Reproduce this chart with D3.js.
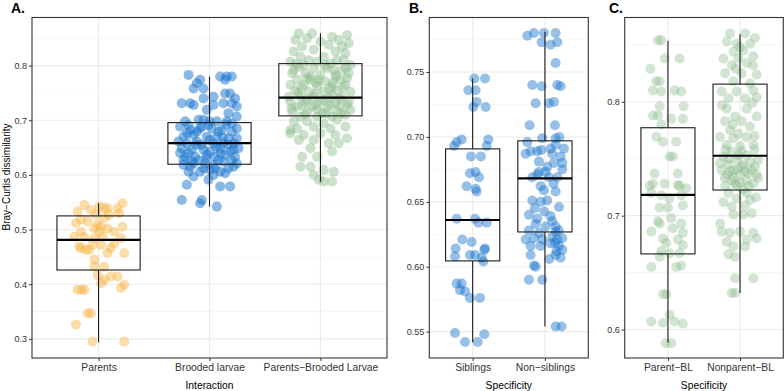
<!DOCTYPE html>
<html><head><meta charset="utf-8">
<script src="https://cdn.jsdelivr.net/npm/d3@7"></script>
<style>
body{margin:0;background:#fff}
svg{display:block}
text{font-family:"Liberation Sans",Arial,Helvetica,sans-serif}
</style>
</head><body>
<svg id="chart" width="784" height="391"></svg>
<script>
// ---------- DATA ----------
const catsA = ["Parents", "Brooded larvae", "Parents\u2212Brooded Larvae"];
const catsB = ["Siblings", "Non\u2212siblings"];
const catsC = ["Parent\u2212BL", "Nonparent\u2212BL"];

const ticksA = [0.3, 0.4, 0.5, 0.6, 0.7, 0.8];
const minorA = [0.35, 0.45, 0.55, 0.65, 0.75, 0.85];
const ticksB = [0.55, 0.60, 0.65, 0.70, 0.75];
const minorB = [0.575, 0.625, 0.675, 0.725, 0.775];
const ticksC = [0.6, 0.7, 0.8];
const minorC = [0.65, 0.75, 0.85];

// box stats: [lower whisker, Q1, median, Q3, upper whisker]
const boxParents = [0.294, 0.426, 0.481, 0.525, 0.548];
const boxBrooded = [0.542, 0.6195, 0.658, 0.6957, 0.780];
const boxPBL = [0.5877, 0.708, 0.7414, 0.8036, 0.859];
const boxSib = [0.5418, 0.6045, 0.636, 0.6908, 0.745];
const boxNonSib = [0.554, 0.6268, 0.668, 0.697, 0.781];
const boxParentBL = [0.5886, 0.6664, 0.7182, 0.7772, 0.8535];
const boxNonparentBL = [0.632, 0.7225, 0.7526, 0.8155, 0.8594];

// points: [jitter offset (category units), Bray-Curtis value]
const ptsParents = [[-0.129,0.545],[0.006,0.542],[0.216,0.548],[-0.189,0.533],[-0.069,0.536],[0.051,0.539],[0.171,0.539],[0.186,0.530],[-0.159,0.518],[-0.204,0.512],[-0.099,0.515],[-0.009,0.509],[0.081,0.502],[0.216,0.505],[-0.039,0.502],[0.021,0.505],[-0.159,0.496],[-0.219,0.487],[-0.129,0.487],[-0.039,0.484],[0.036,0.487],[0.201,0.484],[0.141,0.475],[-0.174,0.469],[-0.114,0.463],[-0.054,0.472],[0.021,0.472],[0.111,0.466],[0.231,0.457],[0.081,0.457],[-0.039,0.445],[0.051,0.432],[-0.039,0.432],[-0.009,0.417],[0.051,0.408],[0.171,0.414],[0.231,0.399],[0.201,0.393],[-0.189,0.390],[-0.129,0.390],[-0.099,0.347],[-0.204,0.326],[-0.054,0.295],[0.231,0.295],[-0.159,0.466],[-0.084,0.463],[0.096,0.527],[-0.024,0.527],[0.081,0.539],[0.141,0.496],[0.006,0.496],[0.051,0.521],[0.021,0.402],[0.111,0.414],[-0.069,0.347],[-0.150,0.390]];

const ptsBrooded = [[-0.189,0.783],[-0.084,0.774],[-0.114,0.768],[-0.144,0.758],[0.096,0.780],[0.156,0.780],[0.201,0.780],[0.141,0.774],[-0.054,0.740],[0.036,0.743],[0.141,0.749],[0.231,0.740],[-0.25,0.731],[-0.144,0.728],[0.036,0.728],[0.126,0.731],[0.246,0.725],[0.171,0.713],[-0.219,0.698],[-0.099,0.701],[-0.054,0.701],[0.066,0.698],[0.156,0.698],[0.246,0.685],[-0.265,0.688],[-0.174,0.682],[-0.069,0.688],[0.021,0.685],[0.111,0.682],[0.201,0.679],[-0.234,0.670],[-0.144,0.673],[-0.024,0.670],[0.066,0.670],[0.171,0.667],[0.246,0.667],[-0.204,0.658],[-0.114,0.661],[0.036,0.658],[0.126,0.658],[-0.25,0.649],[-0.159,0.646],[-0.054,0.646],[0.096,0.649],[0.216,0.646],[-0.219,0.633],[-0.129,0.633],[-0.024,0.637],[0.051,0.633],[0.141,0.637],[0.231,0.633],[-0.234,0.618],[-0.144,0.621],[-0.039,0.621],[0.036,0.618],[0.126,0.624],[0.201,0.627],[-0.189,0.606],[-0.084,0.606],[0.006,0.609],[0.096,0.606],[0.171,0.612],[-0.144,0.597],[0.036,0.600],[-0.204,0.582],[-0.009,0.591],[0.096,0.579],[0.186,0.579],[-0.25,0.554],[-0.084,0.548],[-0.069,0.554],[0.066,0.542],[-0.189,0.691],[-0.009,0.691],[0.201,0.694],[-0.114,0.679],[0.081,0.679],[-0.28,0.661],[-0.069,0.655],[0.171,0.655],[-0.189,0.640],[0.006,0.643],[0.186,0.643],[-0.099,0.627],[0.081,0.627],[0.246,0.621],[-0.234,0.627],[-0.054,0.612],[0.051,0.612],[0.141,0.603],[-0.174,0.615],[0.216,0.615],[0.261,0.649],[-0.265,0.640],[-0.054,0.758],[0.186,0.749],[-0.174,0.731],[-0.024,0.719],[0.201,0.731],[0.246,0.707],[-0.12,0.655],[0.0,0.664],[0.10,0.640],[-0.03,0.630],[0.15,0.692],[-0.2,0.676],[0.22,0.658],[-0.09,0.685],[0.06,0.652],[-0.16,0.625],[0.12,0.668],[0.0,0.698]];

const ptsPBL = [[-0.195,0.859],[-0.075,0.859],[0.105,0.853],[0.240,0.856],[-0.225,0.847],[-0.120,0.850],[0,0.844],[0.165,0.847],[-0.165,0.835],[0.075,0.838],[0.195,0.835],[0.255,0.841],[-0.240,0.826],[-0.060,0.829],[0.135,0.826],[0.225,0.823],[-0.180,0.816],[0.030,0.816],[-0.105,0.810],[0.150,0.810],[-0.271,0.807],[0.090,0.804],[0.271,0.801],[-0.195,0.798],[-0.060,0.795],[0.060,0.795],[0.195,0.792],[-0.255,0.786],[-0.135,0.786],[0,0.783],[0.135,0.783],[0.255,0.786],[-0.210,0.774],[-0.090,0.774],[0.045,0.771],[0.180,0.774],[-0.271,0.765],[-0.150,0.765],[-0.030,0.762],[0.105,0.762],[0.225,0.765],[-0.225,0.755],[-0.105,0.752],[0.030,0.752],[0.150,0.755],[0.271,0.752],[-0.180,0.743],[-0.060,0.743],[0.075,0.740],[0.195,0.743],[-0.271,0.734],[-0.135,0.734],[0,0.734],[0.135,0.731],[0.255,0.734],[-0.210,0.725],[-0.075,0.725],[0.060,0.722],[0.180,0.725],[-0.255,0.716],[-0.120,0.716],[0.015,0.713],[0.150,0.716],[0.271,0.719],[-0.180,0.707],[-0.030,0.707],[0.105,0.707],[0.225,0.710],[-0.150,0.801],[-0.030,0.807],[0.210,0.810],[-0.240,0.792],[0.120,0.792],[-0.120,0.777],[-0.015,0.774],[0.240,0.777],[-0.165,0.728],[0.105,0.746],[-0.045,0.728],[-0.286,0.743],[-0.240,0.698],[-0.120,0.698],[0.030,0.694],[0.150,0.701],[-0.210,0.685],[-0.060,0.688],[0.090,0.685],[0.225,0.688],[-0.271,0.676],[-0.150,0.673],[0,0.676],[0.135,0.673],[0.240,0.667],[-0.195,0.664],[-0.060,0.664],[0.075,0.658],[-0.090,0.649],[-0.165,0.633],[-0.030,0.633],[0.105,0.643],[-0.180,0.615],[-0.090,0.615],[0.030,0.609],[0.120,0.606],[-0.060,0.600],[0.030,0.588],[0.105,0.588],[-0.015,0.591],[-0.271,0.682],[0.165,0.658],[-0.2,0.750],[-0.05,0.748],[0.08,0.757],[0.2,0.760],[-0.12,0.738],[0.03,0.737],[0.17,0.739],[-0.26,0.722],[-0.03,0.720],[0.09,0.728],[0.24,0.728],[-0.14,0.711],[0.05,0.712],[0.19,0.713],[-0.09,0.780],[0.14,0.779],[-0.22,0.803],[0.04,0.800],[0.23,0.796],[-0.04,0.768],[0.11,0.768],[-0.17,0.760]];

const ptsSib = [[0.023,0.745],[0.171,0.745],[-0.060,0.736],[0.041,0.736],[0.055,0.727],[0.009,0.723],[0.180,0.723],[-0.221,0.696],[-0.152,0.698],[-0.258,0.693],[0.217,0.698],[0.194,0.693],[-0.023,0.685],[0.115,0.685],[-0.037,0.672],[0.041,0.673],[0.088,0.669],[-0.083,0.662],[0.041,0.660],[0.055,0.658],[-0.221,0.637],[0.032,0.637],[0.078,0.634],[0.194,0.634],[-0.143,0.621],[-0.014,0.619],[-0.235,0.614],[0.171,0.614],[-0.244,0.608],[-0.037,0.609],[0.032,0.609],[0.124,0.607],[0.148,0.604],[0.161,0.613],[-0.221,0.587],[-0.152,0.587],[-0.175,0.582],[-0.106,0.581],[-0.037,0.576],[0.101,0.576],[-0.244,0.549],[-0.106,0.542],[0.069,0.542],[0.161,0.548]];

const ptsNonSib = [[-0.244,0.778],[-0.152,0.780],[-0.014,0.780],[0.148,0.780],[-0.046,0.773],[0.078,0.771],[0.171,0.773],[0.148,0.757],[-0.175,0.740],[-0.046,0.739],[0.171,0.740],[0.217,0.739],[-0.129,0.726],[0.055,0.726],[0.124,0.727],[-0.212,0.709],[0.138,0.709],[-0.037,0.699],[-0.244,0.696],[0.148,0.699],[0.078,0.691],[-0.106,0.689],[-0.198,0.689],[0.263,0.691],[0.217,0.685],[0.101,0.687],[-0.083,0.681],[0.240,0.680],[0.124,0.680],[-0.083,0.673],[0.009,0.673],[-0.106,0.671],[0.171,0.669],[-0.175,0.669],[-0.014,0.659],[0.148,0.658],[-0.175,0.651],[0.032,0.651],[-0.060,0.650],[-0.221,0.640],[-0.106,0.637],[0.078,0.639],[0.101,0.635],[0.148,0.631],[-0.129,0.633],[-0.221,0.628],[0.148,0.627],[-0.152,0.622],[-0.037,0.621],[0.101,0.623],[0.240,0.622],[-0.198,0.616],[-0.060,0.616],[0.194,0.616],[0.240,0.613],[-0.198,0.609],[0.148,0.609],[0.217,0.607],[-0.152,0.601],[-0.129,0.600],[-0.221,0.590],[-0.037,0.590],[0.148,0.554],[0.231,0.554],[0.055,0.669],[-0.060,0.662],[0.194,0.646],[0.009,0.631],[0.078,0.618],[-0.267,0.621],[-0.083,0.626],[0.171,0.621],[0.032,0.677],[-0.267,0.687],[0.240,0.675],[0.14,0.6185],[0.16,0.612],[-0.01,0.6425],[0.12,0.664],[-0.14,0.645],[0.19,0.628],[0.06,0.606],[0.20,0.70],[-0.05,0.690],[0.15,0.694]];

const ptsParentBL = [[-0.138,0.854],[-0.092,0.854],[-0.046,0.838],[0.161,0.838],[-0.244,0.829],[-0.161,0.818],[-0.115,0.818],[-0.207,0.810],[-0.092,0.809],[0.092,0.810],[0.184,0.809],[-0.115,0.796],[0.217,0.796],[-0.207,0.788],[-0.138,0.788],[0.046,0.785],[0.207,0.785],[-0.092,0.780],[-0.161,0.769],[-0.069,0.765],[0.115,0.765],[0.023,0.752],[0.069,0.752],[-0.184,0.737],[0.138,0.737],[-0.207,0.728],[-0.046,0.728],[0.138,0.727],[0.161,0.726],[-0.231,0.720],[-0.092,0.718],[0.184,0.718],[0.023,0.715],[-0.115,0.707],[0,0.707],[0.207,0.709],[-0.138,0.695],[-0.115,0.693],[0.069,0.689],[0.184,0.693],[-0.231,0.686],[0.207,0.685],[-0.069,0.680],[-0.023,0.676],[0.138,0.679],[0.207,0.674],[-0.092,0.669],[-0.115,0.664],[0.023,0.667],[0.161,0.667],[-0.231,0.655],[0.115,0.655],[0.184,0.656],[-0.069,0.631],[-0.023,0.631],[0.023,0.613],[-0.231,0.607],[-0.069,0.606],[0.092,0.607],[0.207,0.605],[-0.032,0.588],[0.046,0.588],[0.254,0.724],[-0.254,0.726],[0.046,0.698]];

const ptsNonparentBL = [[-0.138,0.860],[0.069,0.860],[0.207,0.856],[-0.184,0.853],[-0.046,0.851],[0.138,0.851],[-0.092,0.844],[0.046,0.845],[-0.231,0.838],[-0.023,0.838],[0.184,0.840],[-0.115,0.832],[0.092,0.834],[-0.207,0.825],[0.023,0.825],[0.230,0.824],[-0.092,0.818],[0.138,0.816],[-0.254,0.809],[-0.046,0.809],[0.184,0.810],[-0.161,0.803],[0.069,0.803],[0.230,0.804],[-0.184,0.794],[0.092,0.794],[-0.069,0.787],[0.230,0.787],[-0.207,0.783],[0.023,0.783],[-0.138,0.775],[0.138,0.778],[-0.023,0.772],[-0.277,0.769],[-0.092,0.768],[0.092,0.769],[-0.184,0.762],[0.184,0.762],[0,0.761],[-0.115,0.756],[-0.231,0.752],[0.092,0.753],[0.254,0.749],[-0.046,0.749],[-0.161,0.745],[0.046,0.745],[-0.254,0.740],[-0.092,0.740],[0.161,0.740],[-0.184,0.736],[0,0.736],[0.230,0.736],[-0.115,0.731],[0.092,0.731],[-0.046,0.727],[0.184,0.728],[-0.207,0.726],[0.046,0.723],[-0.277,0.746],[0.138,0.747],[-0.023,0.753],[-0.092,0.734],[0.115,0.737],[-0.161,0.750],[0.023,0.743],[-0.138,0.739],[0.207,0.743],[-0.069,0.728],[0.115,0.726],[-0.231,0.712],[-0.046,0.715],[0.138,0.714],[-0.115,0.708],[0.069,0.709],[-0.092,0.701],[0.046,0.701],[0.161,0.702],[-0.254,0.686],[-0.138,0.685],[0,0.686],[0.184,0.685],[-0.184,0.677],[0.092,0.679],[-0.092,0.673],[0.069,0.673],[-0.161,0.666],[-0.069,0.664],[-0.069,0.645],[0.184,0.645],[-0.115,0.632],[-0.069,0.632],[0.230,0.680],[-0.277,0.693],[0.02,0.757],[-0.2,0.758],[0.2,0.758],[-0.03,0.741],[0.07,0.739],[-0.21,0.733],[0.25,0.733],[0.0,0.729],[-0.25,0.797],[0.17,0.799],[-0.1,0.78],[0.2,0.77],[0.0,0.848],[-0.06,0.829],[0.18,0.832],[-0.16,0.72],[0.09,0.72],[0.22,0.716]];

// ---------- STYLE / LAYOUT ----------
const colParents = "#F6B440", colBlue = "#1874CD", colGreen = "#8FBC8F";
const TOP = 17.5, BOTTOM = 358;

const svg = d3.select("#chart");

function drawPanel(cfg) {
  const n = cfg.cats.length;
  const x = d3.scaleLinear().domain([0.4, n + 0.6]).range([cfg.left, cfg.right]);
  const y = d3.scaleLinear().domain(cfg.domain).range([BOTTOM, TOP]);
  const g = svg.append("g");

  // grid
  const grid = g.append("g");
  grid.selectAll(".mn").data(cfg.minor).join("line")
    .attr("x1", cfg.left).attr("x2", cfg.right)
    .attr("y1", d => y(d)).attr("y2", d => y(d))
    .attr("stroke", "#F2F2F2").attr("stroke-width", 0.6);
  grid.selectAll(".mj").data(cfg.ticks).join("line")
    .attr("x1", cfg.left).attr("x2", cfg.right)
    .attr("y1", d => y(d)).attr("y2", d => y(d))
    .attr("stroke", "#EBEBEB").attr("stroke-width", 1.1);
  grid.selectAll(".vx").data(d3.range(1, n + 1)).join("line")
    .attr("x1", d => x(d)).attr("x2", d => x(d))
    .attr("y1", TOP).attr("y2", BOTTOM)
    .attr("stroke", "#EBEBEB").attr("stroke-width", 1.1);

  // points
  cfg.groups.forEach((grp, i) => {
    g.append("g").selectAll("circle").data(grp.pts).join("circle")
      .attr("cx", d => x(i + 1 + d[0]))
      .attr("cy", d => y(d[1]))
      .attr("r", 5)
      .attr("fill", grp.color)
      .attr("fill-opacity", grp.alpha);
  });

  // boxes
  const bw = 0.375;
  cfg.groups.forEach((grp, i) => {
    const b = grp.box, c = i + 1;
    const bg = g.append("g");
    bg.append("line").attr("x1", x(c)).attr("x2", x(c)).attr("y1", y(b[3])).attr("y2", y(b[4]))
      .attr("stroke", "#1a1a1a").attr("stroke-width", 1.1);
    bg.append("line").attr("x1", x(c)).attr("x2", x(c)).attr("y1", y(b[1])).attr("y2", y(b[0]))
      .attr("stroke", "#1a1a1a").attr("stroke-width", 1.1);
    bg.append("rect").attr("x", x(c - bw)).attr("y", y(b[3]))
      .attr("width", x(c + bw) - x(c - bw)).attr("height", y(b[1]) - y(b[3]))
      .attr("fill", "none").attr("stroke", "#1a1a1a").attr("stroke-width", 1.1);
    bg.append("line").attr("x1", x(c - bw)).attr("x2", x(c + bw)).attr("y1", y(b[2])).attr("y2", y(b[2]))
      .attr("stroke", "#000").attr("stroke-width", 2.2);
  });

  // border
  g.append("rect").attr("x", cfg.left).attr("y", TOP)
    .attr("width", cfg.right - cfg.left).attr("height", BOTTOM - TOP)
    .attr("fill", "none").attr("stroke", "#333").attr("stroke-width", 1.1);

  // axes
  const ya = g.append("g").attr("transform", `translate(${cfg.left},0)`)
    .call(d3.axisLeft(y).tickValues(cfg.ticks).tickSize(3).tickPadding(2).tickFormat(d3.format(cfg.fmt)));
  ya.select(".domain").remove();
  ya.selectAll("line").attr("stroke", "#333");
  ya.selectAll("text").attr("fill", "#333").style("font-size", "9px");

  const xa = g.append("g").attr("transform", `translate(0,${BOTTOM})`)
    .call(d3.axisBottom(x).tickValues(d3.range(1, n + 1)).tickSize(3).tickPadding(3).tickFormat(d => cfg.cats[d - 1]));
  xa.select(".domain").remove();
  xa.selectAll("line").attr("stroke", "#333");
  xa.selectAll("text").attr("fill", "#333").style("font-size", "10.3px");

  // axis title
  g.append("text").attr("x", (cfg.left + cfg.right) / 2).attr("y", 389)
    .attr("text-anchor", "middle").attr("fill", "#000").style("font-size", "10.3px")
    .text(cfg.xtitle);

  // panel label
  g.append("text").attr("x", cfg.labelX).attr("y", 13)
    .attr("fill", "#000").style("font-size", "14px").style("font-weight", "bold")
    .text(cfg.label);
}

drawPanel({
  cats: catsA, left: 32, right: 387, domain: [0.265, 0.888], ticks: ticksA, minor: minorA, fmt: ".1f",
  groups: [
    {pts: ptsParents, box: boxParents, color: colParents, alpha: 0.45},
    {pts: ptsBrooded, box: boxBrooded, color: colBlue, alpha: 0.5},
    {pts: ptsPBL, box: boxPBL, color: colGreen, alpha: 0.45}
  ],
  xtitle: "Interaction", label: "A.", labelX: 11
});
drawPanel({
  cats: catsB, left: 429.3, right: 588.3, domain: [0.5297, 0.792], ticks: ticksB, minor: minorB, fmt: ".2f",
  groups: [
    {pts: ptsSib, box: boxSib, color: colBlue, alpha: 0.45},
    {pts: ptsNonSib, box: boxNonSib, color: colBlue, alpha: 0.45}
  ],
  xtitle: "Specificity", label: "B.", labelX: 409
});
drawPanel({
  cats: catsC, left: 624.7, right: 783.3, domain: [0.575, 0.874], ticks: ticksC, minor: minorC, fmt: ".1f",
  groups: [
    {pts: ptsParentBL, box: boxParentBL, color: colGreen, alpha: 0.4},
    {pts: ptsNonparentBL, box: boxNonparentBL, color: colGreen, alpha: 0.4}
  ],
  xtitle: "Specificity", label: "C.", labelX: 609
});

// y-axis title
svg.append("text").attr("transform", "translate(10,177) rotate(-90)")
  .attr("text-anchor", "middle").attr("fill", "#000").style("font-size", "10px")
  .text("Bray\u2212Curtis dissimilarity");
</script>
</body></html>
